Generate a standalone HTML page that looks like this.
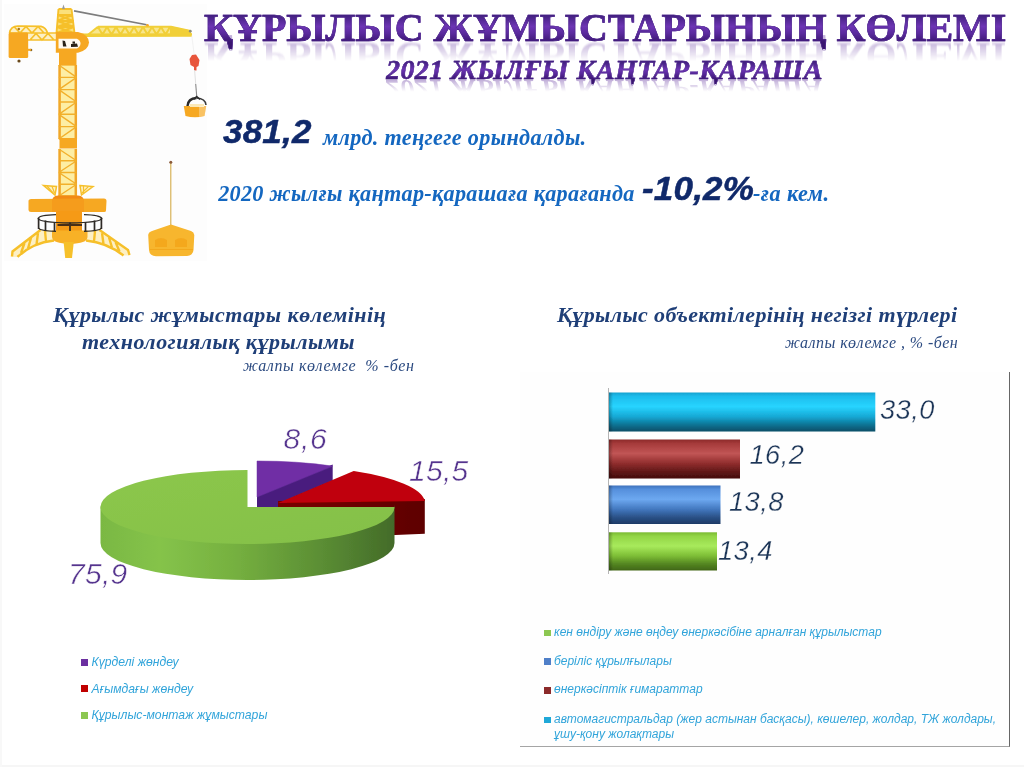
<!DOCTYPE html>
<html lang="kk">
<head>
<meta charset="utf-8">
<title>Құрылыс жұмыстарының көлемі</title>
<style>
html,body{margin:0;padding:0;background:#fff;}
body{width:1024px;height:767px;position:relative;overflow:hidden;font-family:"Liberation Serif",serif;}
body:after{content:"";position:absolute;left:0;top:0;right:0;bottom:0;box-shadow:inset 2px 0 0 #f8f8f8,inset 0 -2px 0 #f6f6f6;pointer-events:none;}
.abs{position:absolute;white-space:nowrap;line-height:1;}
.ttl{left:204.3px;top:8.2px;font-size:40.6px;font-weight:bold;transform-origin:0 34px;}
#title{transform:scaleX(.9855);-webkit-text-stroke:.6px #4b238c;background:linear-gradient(180deg,#42207f 18%,#6d35b4 45%,#5a2a9d 62%,#3a1670 84%);-webkit-background-clip:text;background-clip:text;color:transparent;}
#title-ref{transform:scale(.9855,-1);color:#5a2a9a;-webkit-mask-image:linear-gradient(to bottom,rgba(0,0,0,0) 36%,rgba(0,0,0,.36) 84%);mask-image:linear-gradient(to bottom,rgba(0,0,0,0) 36%,rgba(0,0,0,.36) 84%);filter:blur(.8px);}
.sub{left:386px;top:55.5px;font-size:28px;font-weight:bold;font-style:italic;letter-spacing:.4px;transform-origin:0 23.45px;}
#sub{-webkit-text-stroke:.4px #4b238c;background:linear-gradient(180deg,#42207f 22%,#6d35b4 48%,#5a2a9d 62%,#3a1670 84%);-webkit-background-clip:text;background-clip:text;color:transparent;padding-right:6px;}
#sub-ref{transform:scaleY(-1);color:#5a2a9a;-webkit-mask-image:linear-gradient(to bottom,rgba(0,0,0,0) 40%,rgba(0,0,0,.4) 84%);mask-image:linear-gradient(to bottom,rgba(0,0,0,0) 40%,rgba(0,0,0,.4) 84%);filter:blur(.5px);padding-right:6px;}
.big{font-family:"Liberation Sans",sans-serif;font-weight:bold;font-style:italic;color:#10296a;font-size:33px;letter-spacing:.2px;-webkit-text-stroke:.5px #10296a;transform-origin:0 50%;transform:scaleX(1.06);}
.blue{font-weight:bold;font-style:italic;color:#1467c0;font-size:22.2px;letter-spacing:.33px;}
.hd{font-weight:bold;font-style:italic;color:#1f3f78;font-size:22px;letter-spacing:.48px;}
.hs{font-style:italic;color:#2b4a80;font-size:16px;letter-spacing:.45px;}
.lg{font-family:"Liberation Sans",sans-serif;font-style:italic;font-size:12px;color:#31a4da;filter:blur(.35px);}
.sq{position:absolute;width:7px;height:7px;filter:blur(.3px);}
.pl{font-family:"Liberation Sans",sans-serif;font-style:italic;font-size:30px;letter-spacing:.8px;color:#55348e;-webkit-text-stroke:.5px #fff;filter:blur(.3px);}
.bl{font-family:"Liberation Sans",sans-serif;font-style:italic;font-size:27.2px;letter-spacing:.5px;color:#1c3557;-webkit-text-stroke:.3px #fff;filter:blur(.3px);}
</style>
</head>
<body>
<svg class="abs" id="crane" style="left:0;top:0" width="220" height="280" viewBox="0 0 220 280">
<defs><filter id="bl" x="-5%" y="-5%" width="110%" height="110%"><feGaussianBlur stdDeviation="0.7"/></filter></defs>
<rect x="4" y="4" width="203" height="257" fill="#fdfdfd"/>
<g filter="url(#bl)">
<path d="M58.5 9 L71.5 9 L74.5 33 L56 33 Z" fill="#fbe07a"/>
<path d="M58.5 9 L56.5 33 M71.5 9 L74.5 33 M58.5 9H71.5 M58 15L73 21 M72.5 15L57 21 M57.5 21L74 27 M73.5 21L57 27 M57 27L74 33 M74 27L56.5 33 M57 15H73M57 21H74M56.5 27H74.5" stroke="#f6c02c" stroke-width="1.9" fill="none"/>
<path d="M63.5 4.5 L65 9 L62 9Z" fill="#9a9a9a"/>
<rect x="58.8" y="65" width="17.799999999999997" height="74" fill="#fdeea4"/>
<path d="M59.599999999999994 65V139M75.8 65V139" stroke="#f0a62a" stroke-width="2.5" fill="none"/>
<path d="M58.8 65L76.6 77.33M58.8 77.33H76.6M76.6 77.33L58.8 89.66M58.8 89.66H76.6M58.8 89.66L76.6 101.99M58.8 101.99H76.6M76.6 101.99L58.8 114.32M58.8 114.32H76.6M58.8 114.32L76.6 126.64999999999999M58.8 126.64999999999999H76.6M76.6 126.64999999999999L58.8 138.98M58.8 138.98H76.6" stroke="#f2b02c" stroke-width="1.4" fill="none"/>
<rect x="58.8" y="149" width="17.799999999999997" height="47" fill="#fdeea4"/>
<path d="M59.599999999999994 149V196M75.8 149V196" stroke="#f0a62a" stroke-width="2.5" fill="none"/>
<path d="M58.8 149L76.6 160.75M58.8 160.75H76.6M76.6 160.75L58.8 172.5M58.8 172.5H76.6M58.8 172.5L76.6 184.25M58.8 184.25H76.6M76.6 184.25L58.8 196.0M58.8 196.0H76.6" stroke="#f2b02c" stroke-width="1.4" fill="none"/>
<rect x="59.5" y="138" width="17.5" height="10.5" fill="#f6a821"/>
<path d="M86 36.3 L98 26.2 L171 26.2 L190 30.3 L192 36 Z" fill="#f8e68c"/>
<path d="M98 26.8 L171 26.8 L190.5 31 M86.5 36 L98 26.8M98 27L102.5 34.5L107 27M107 27L111.5 34.5L116 27M116 27L120.5 34.5L125 27M125 27L129.5 34.5L134 27M134 27L138.5 34.5L143 27M143 27L147.5 34.5L152 27M152 27L156.5 34.5L161 27M161 27L165.5 34.5L170 27" stroke="#f1cf38" stroke-width="2" fill="none"/>
<path d="M170 27 L190.5 30.6 L192 36 L170 36Z" fill="#f1cf38"/>
<path d="M80 35.3 L192 35" stroke="#f1cf38" stroke-width="3.4" fill="none"/>
<circle cx="190.3" cy="31.2" r="1.4" fill="#8a8a7a"/>
<path d="M74 10.9 L146.6 24.8" stroke="#7d7d7d" stroke-width="1.6" fill="none"/>
<circle cx="147.5" cy="25.2" r="1.3" fill="#f6a821"/>
<path d="M9 33 Q10 26 18 25.6 L42 26 Q47 28 48 33 L57 33 L57 40 L30 40 L28 33Z" fill="#fdf0c4"/>
<path d="M9.5 33 Q10.5 26.3 18 26 L41 26.3 Q46 27.5 47.5 33 M9 33H57 M28 40H57 M14 26.5L20 33L26 26.5L32 33L38 26.5L44 33 M30 40L36 33.5L42 40L48 33.5L54 40" stroke="#f6c02c" stroke-width="1.7" fill="none"/>
<rect x="8.6" y="32.5" width="19.6" height="25.5" rx="1.5" fill="#f6a821"/>
<circle cx="19" cy="61" r="1.6" fill="#6b4a1a"/><circle cx="31" cy="50" r="1.3" fill="#8a6a2a"/><circle cx="18.8" cy="29" r="1.2" fill="#a8741a"/>
<rect x="27" y="48.8" width="4" height="2" fill="#f6a821"/>
<path d="M55.8 32 L78 32 Q88.5 34.5 89 42.5 Q88.5 50 78 52.8 L55.8 52.8Z" fill="#f6a821"/>
<rect x="59" y="52" width="17.5" height="13.6" fill="#f6a821"/>
<path d="M58.5 38.8 H77 Q80.5 40.5 80.5 43.5 Q80.5 46.5 77 48.4 H58.5Z" fill="#fffaf0"/>
<path d="M62.5 40.5 L65 41 L66.5 46.5 L63 46.5Z M71 44 L77 43.5 L78 46.8 L71 47Z M72.5 41.5 L75 41.5 L75 43.5 L72.5 43.5Z" fill="#2a2218"/>
<path d="M191.8 35.5 L194.3 56" stroke="#efefef" stroke-width=".8" fill="none"/>
<path d="M192 55 L196 54.5 L199.5 60 L198.5 66 L196.5 67 L196.5 70.5 L194 70.5 L194 67 L190.5 65 L189.5 59Z" fill="#e8553a"/>
<path d="M194.6 70 L195.7 84" stroke="#dcdcdc" stroke-width=".9" fill="none"/><path d="M195.7 84 L196.8 97" stroke="#8a8a8a" stroke-width="1.1" fill="none"/>
<path d="M187.5 106 Q188 98.5 196.5 98" stroke="#2b2b2b" stroke-width="2.4" fill="none"/><path d="M196.5 98 Q205.5 98.5 206 105" stroke="#3b3b3b" stroke-width="1.5" fill="none"/>
<path d="M193.5 99.5 L196.7 96.5 L200 99.5" stroke="#2b2b2b" stroke-width="1.6" fill="none"/>
<path d="M183.8 106 L206.2 106 L204.5 116 Q195 118.5 185.5 116Z" fill="#f6a821"/>
<rect x="190" y="104" width="14" height="3" fill="#fbe9b8"/>
<path d="M199 106 L206.2 106 L204.5 116 L199 117Z" fill="#fff" opacity=".3"/>
<path d="M43.5 185.5 L56.5 186.5 L55 195 Z" fill="#fdf0c4" stroke="#f6c02c" stroke-width="1.5"/>
<path d="M47 186 L53 193 M52 186.3 L54.5 193" stroke="#f6c02c" stroke-width="1.2"/>
<path d="M80.0 185.5 L93.0 186.5 L81.5 195 Z" fill="#fdf0c4" stroke="#f6c02c" stroke-width="1.5"/>
<path d="M83.5 186 L83.5 193 M88.5 186.3 L82.0 193" stroke="#f6c02c" stroke-width="1.2"/>
<path d="M52 202 Q52 195.5 58 195.5 L78 195.5 Q84 195.5 84 202Z" fill="#f28a14"/>
<path d="M28.5 200.5 Q29 199 31 199 L104 198.5 Q106.5 198.5 106.5 201 L106 210.5 Q106 212 104 212 L31 212 Q28.6 212 28.5 210Z" fill="#f6a821"/>
<rect x="52" y="199" width="32" height="13" fill="#f59c1a"/>
<rect x="56" y="211" width="26" height="21" fill="#f69a18"/>
<path d="M40 229.5 L54 231 L54 241 Q34 242 18 257 L11.5 257 L12 251 Z" fill="#fdf0c4"/>
<path d="M40.5 230 L12.5 251.5 L12 256.5 M17.5 256.8 Q33 242.5 54 240.5 M45 231 L46 241.5 M38 233 L36.5 244.5 M31 238 L28 248.5 M24.5 243 L21 253" stroke="#f6c02c" stroke-width="2.4" fill="none"/>
<path d="M100 229.5 L86 231 L86 241 Q106 242 123 255.5 L130 255.5 L129 250 Z" fill="#fdf0c4"/>
<path d="M99.5 230 L128 250 L129.5 255 M123.5 255.5 Q107 242.5 86 240.5 M95 231 L94 241.5 M102 233 L103.5 244 M109 237.5 L112 247.5 M115.5 242 L119.5 251.5" stroke="#f6c02c" stroke-width="2.4" fill="none"/>
<path d="M52 230.5 L87.5 230.5 L87.5 237 Q87 243.8 70 243.8 Q52.5 243.8 52 237Z" fill="#f8b127"/>
<path d="M63.6 242 L73.8 242 L72 258 L65.2 258Z" fill="#f6c02c"/>
<path d="M38 218.5 Q39.5 215 56 214.6 M84 214.6 Q100 215 102 218.5 M38 218.5 Q40 222.5 70 223 Q100 222.5 102 218.5 M38.5 228 Q40 231 56 231.3 M84 231.3 Q100 231 101.5 228" stroke="#2e2a26" stroke-width="1.3" fill="none"/>
<path d="M38.6 218V229M45.5 220.5V230.5M54.5 222V231.5M70 222.5V231M85.5 222V231.5M94.5 220.5V230.5M101.4 218V229" stroke="#2e2a26" stroke-width="1.7" fill="none"/>
<path d="M57.5 225H82" stroke="#4a2e14" stroke-width="2" fill="none"/>
<path d="M170.8 162.5 V226" stroke="#d4ab4a" stroke-width="1.1" fill="none"/>
<circle cx="170.8" cy="162.3" r="1.5" fill="#8a5a3a"/>
<path d="M171 224.5 L191 231 Q194 232 194.3 235 L193.5 250 Q193 255.5 187 256 L156 256.3 Q149.5 256 149 250 L148.2 235 Q148.5 232 152 231Z" fill="#f7b62e"/>
<path d="M155 240 Q161 236 167 240 L167 247 L155 247Z M175 240 Q181 236 187 240 L187 247 L175 247Z" fill="#f3a51c" opacity=".8"/>
<path d="M150 249.5 H193" stroke="#f3a51c" stroke-width="1.2" opacity=".8"/>
</g>
</svg>

<div class="abs ttl" id="title-ref">ҚҰРЫЛЫС ЖҰМЫСТАРЫНЫҢ КӨЛЕМІ</div>
<div class="abs sub" id="sub-ref">2021 ЖЫЛҒЫ ҚАҢТАР-ҚАРАША</div>
<div class="abs ttl" id="title">ҚҰРЫЛЫС ЖҰМЫСТАРЫНЫҢ КӨЛЕМІ</div>
<div class="abs sub" id="sub">2021 ЖЫЛҒЫ ҚАҢТАР-ҚАРАША</div>

<div class="abs big" id="n1" style="left:222.5px;top:115.1px;">381,2</div>
<div class="abs blue" id="t1" style="left:323px;top:126.8px;">млрд. теңгеге орындалды.</div>
<div class="abs blue" id="t2" style="left:218.2px;top:183.2px;letter-spacing:.3px">2020 жылғы қаңтар-қарашаға қарағанда</div>
<div class="abs big" id="n2" style="left:642px;top:172.1px;">-10,2%</div>
<div class="abs blue" id="t3" style="left:753px;top:183.2px;letter-spacing:.45px">-ға кем.</div>

<div class="abs hd" id="h1a" style="left:53px;top:304.1px;">Құрылыс жұмыстары көлемінің</div>
<div class="abs hd" id="h1b" style="left:82px;top:331.3px;">технологиялық құрылымы</div>
<div class="abs hs" id="h1c" style="left:243px;top:357.7px;letter-spacing:.58px">жалпы көлемге&nbsp; % -бен</div>

<div class="abs hd" id="h2a" style="left:557px;top:304.1px;letter-spacing:.38px">Құрылыс объектілерінің негізгі түрлері</div>
<div class="abs hs" id="h2b" style="left:785px;top:335.3px;">жалпы көлемге , % -бен</div>

<svg class="abs" id="pie" style="left:0;top:400px" width="512" height="220" viewBox="0 400 512 220">
<defs>
<linearGradient id="gs" x1="0" y1="0" x2="1" y2="0">
<stop offset="0" stop-color="#7ab843"/><stop offset=".2" stop-color="#85c34a"/><stop offset=".45" stop-color="#76b140"/><stop offset=".75" stop-color="#5b8e34"/><stop offset="1" stop-color="#436b29"/>
</linearGradient>
<linearGradient id="gt" x1="0" y1="0" x2="1" y2="1">
<stop offset="0" stop-color="#8cc74c"/><stop offset="1" stop-color="#84c047"/>
</linearGradient>
<linearGradient id="rs" x1="0" y1="0" x2="1" y2="0">
<stop offset="0" stop-color="#7a0000"/><stop offset="1" stop-color="#5e0000"/>
</linearGradient>
<filter id="pb" x="-3%" y="-3%" width="106%" height="106%"><feGaussianBlur stdDeviation="0.45"/></filter>
</defs>
<g filter="url(#pb)">
<!-- purple -->
<path d="M257 495 L332.7 464.5 L332.7 502 L257 533Z" fill="#4a1f7e"/>
<path d="M257 497 L257 461 A147 36 0 0 1 332.7 466.1Z" fill="#6f2fa5" stroke="#6f2fa5" stroke-width=".5"/>
<!-- red -->
<path d="M278 501 L424.8 499 L424.8 533.8 L278 540Z" fill="url(#rs)"/>
<path d="M278 503 L353.7 470.9 A147 37.5 0 0 1 424.8 500.9Z" fill="#c00208"/>
<!-- green -->
<path d="M100.5 505 A147 37 0 0 0 394.5 505 L394.5 543 A147 37 0 0 1 100.5 543Z" fill="url(#gs)"/>
<path d="M247.5 507 L394.5 507 A147 37 0 1 1 247.5 470Z" fill="url(#gt)"/>
</g>

</svg>

<div class="abs pl" id="p1" style="left:283.5px;top:424.4px;">8,6</div>
<div class="abs pl" id="p2" style="left:409px;top:456px;letter-spacing:.3px">15,5</div>
<div class="abs pl" id="p3" style="left:68px;top:558.6px;letter-spacing:.3px">75,9</div>

<div class="sq" style="left:81.2px;top:659px;background:#6b2fa0"></div>
<div class="sq" style="left:81.2px;top:685px;background:#c00000"></div>
<div class="sq" style="left:81.2px;top:711.5px;background:#8cc751"></div>
<div class="abs lg" id="l1" style="left:91.5px;top:656.3px;font-size:12.2px">Күрделі жөндеу</div>
<div class="abs lg" id="l2" style="left:91.5px;top:682.5px;font-size:12.2px">Ағымдағы жөндеу</div>
<div class="abs lg" id="l3" style="left:91.5px;top:708.5px;font-size:12.2px">Құрылыс-монтаж жұмыстары</div>

<div class="abs" id="box" style="left:520px;top:372px;width:490px;height:375px;border-right:1px solid #666;border-bottom:1px solid #a5a5a5;box-sizing:border-box;background:#fefefe;"></div>
<svg class="abs" id="bars" style="left:560px;top:380px" width="440" height="210" viewBox="560 380 440 210">
<defs>
<linearGradient id="bc" x1="0" y1="0" x2="0" y2="1">
<stop offset="0" stop-color="#16a2d0"/><stop offset=".1" stop-color="#1dbdec"/><stop offset=".36" stop-color="#27d4ff"/><stop offset=".62" stop-color="#16a8d4"/><stop offset=".82" stop-color="#0c7596"/><stop offset="1" stop-color="#074d66"/>
</linearGradient>
<linearGradient id="br" x1="0" y1="0" x2="0" y2="1">
<stop offset="0" stop-color="#8c2a2a"/><stop offset=".1" stop-color="#a53a3a"/><stop offset=".36" stop-color="#c15555"/><stop offset=".62" stop-color="#8f2c2c"/><stop offset=".82" stop-color="#621818"/><stop offset="1" stop-color="#430c0c"/>
</linearGradient>
<linearGradient id="bb" x1="0" y1="0" x2="0" y2="1">
<stop offset="0" stop-color="#3e72bc"/><stop offset=".1" stop-color="#558fdc"/><stop offset=".36" stop-color="#6da8f0"/><stop offset=".62" stop-color="#4277be"/><stop offset=".82" stop-color="#2b5288"/><stop offset="1" stop-color="#1d3a66"/>
</linearGradient>
<linearGradient id="bg" x1="0" y1="0" x2="0" y2="1">
<stop offset="0" stop-color="#7aba33"/><stop offset=".1" stop-color="#92d545"/><stop offset=".36" stop-color="#a8ea5c"/><stop offset=".62" stop-color="#7dbd35"/><stop offset=".82" stop-color="#568822"/><stop offset="1" stop-color="#3f6617"/>
</linearGradient>
<linearGradient id="bsh" x1="0" y1="0" x2="1" y2="0">
<stop offset="0" stop-color="#000" stop-opacity=".28"/><stop offset="1" stop-color="#000" stop-opacity="0"/>
</linearGradient>
<filter id="bbz" x="-3%" y="-3%" width="106%" height="106%"><feGaussianBlur stdDeviation="0.5"/></filter>
</defs>
<path d="M608.5 388V574" stroke="#b5b5b5" stroke-width="1"/>
<g filter="url(#bbz)">
<rect x="609" y="392.5" width="266.3" height="39" fill="url(#bc)"/>
<rect x="609" y="439.5" width="131" height="39" fill="url(#br)"/>
<rect x="609" y="485.5" width="111.5" height="38.5" fill="url(#bb)"/>
<rect x="609" y="532.3" width="108" height="38.2" fill="url(#bg)"/>
<rect x="609" y="392.5" width="4" height="39" fill="url(#bsh)"/>
<rect x="609" y="439.5" width="4" height="39" fill="url(#bsh)"/>
<rect x="609" y="485.5" width="4" height="38.5" fill="url(#bsh)"/>
<rect x="609" y="532.3" width="4" height="38.2" fill="url(#bsh)"/>
</g>

</svg>

<div class="abs bl" id="b1" style="left:880px;top:395.9px;">33,0</div>
<div class="abs bl" id="b2" style="left:749.5px;top:441px;">16,2</div>
<div class="abs bl" id="b3" style="left:729px;top:488.1px;">13,8</div>
<div class="abs bl" id="b4" style="left:718px;top:536.5px;">13,4</div>

<div class="sq" style="left:544px;top:629.5px;width:6.5px;height:6.5px;background:#8cc751"></div>
<div class="sq" style="left:544px;top:658.3px;width:6.5px;height:6.5px;background:#4f7fc8"></div>
<div class="sq" style="left:544px;top:687.3px;width:6.5px;height:6.5px;background:#8b2a2a"></div>
<div class="sq" style="left:544px;top:716.5px;width:6.5px;height:6.5px;background:#1fa8d8"></div>
<div class="abs lg" id="r1" style="left:554px;top:626.3px;">кен өндіру және өңдеу өнеркәсібіне арналған құрылыстар</div>
<div class="abs lg" id="r2" style="left:554px;top:655px;">беріліс құрылғылары</div>
<div class="abs lg" id="r3" style="left:554px;top:683.4px;">өнеркәсіптік ғимараттар</div>
<div class="abs lg" id="r4" style="left:554px;top:713.4px;">автомагистральдар (жер астынан басқасы), көшелер, жолдар, ТЖ жолдары,</div>
<div class="abs lg" id="r5" style="left:554px;top:727.8px;">ұшу-қону жолақтары</div>
</body>
</html>
